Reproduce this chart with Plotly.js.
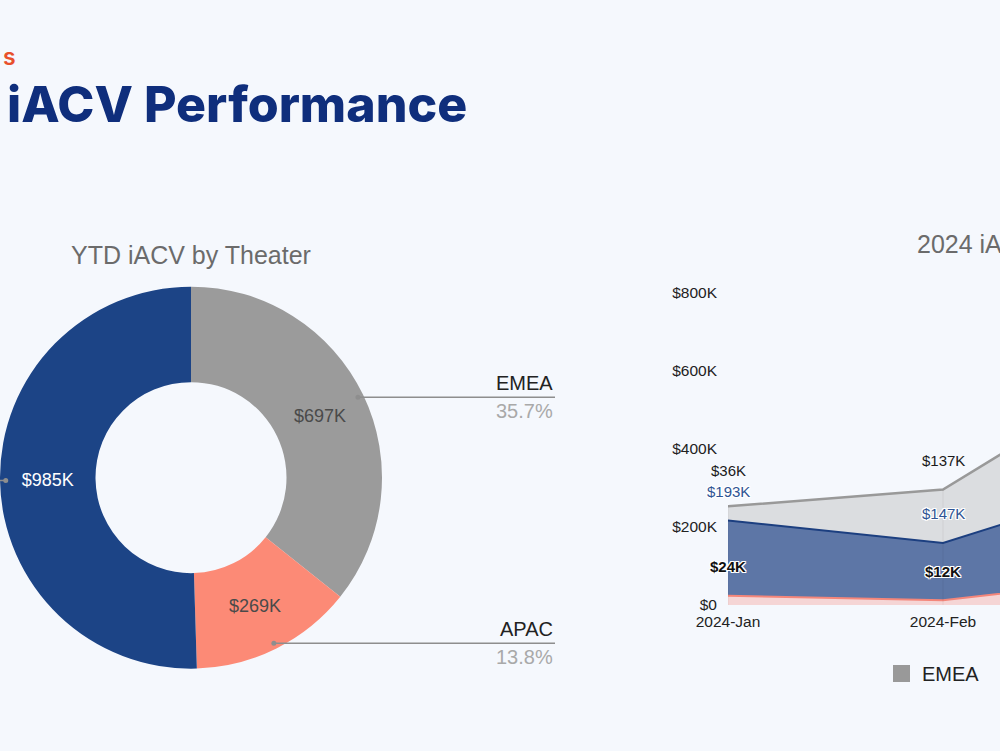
<!DOCTYPE html>
<html>
<head>
<meta charset="utf-8">
<script src="https://cdn.plot.ly/plotly-3.0.1.min.js"></script>
<style>
  html, body { margin: 0; padding: 0; background: #f5f8fd; overflow: hidden; }
  #chart { width: 1000px; height: 751px; }
</style>
</head>
<body>
<div id="chart"></div>
<script>
// YTD iACV by theater, in $K
const theaters = ["EMEA", "APAC", "AMER"];
const ytdValues = [697, 269, 985];

// 2024 monthly iACV by theater, in $K
const months = ["2024-Jan", "2024-Feb", "2024-Mar"];
const apacMonthly = [24, 12, 75];
const amerMonthly = [193, 147, 258];
const emeaMonthly = [36, 137, 300];

// Value axis ticks ($K)
const yTickVals = [0, 200, 400, 600, 800];
const yTickText = ["$0", "$200K", "$400K", "$600K", "$800K"];

// ---- styling / layout constants ----
const W = 1000, H = 751;
const FONT = "Liberation Sans, Arial, Helvetica, sans-serif";
const BG = "#f5f8fd";
const sliceColors = ["#9b9b9b", "#fc8a76", "#1c4486"];
const sliceTextColors = ["#4a4a4a", "#4a4a4a", "#ffffff"];
const pieDomain = { x: [0, 0.382], y: [0.108, 0.620] };
const areaX = [0.728, 1.0];
const areaY = [146 / H, 458 / H];
const outline = "1px 1px 0 #fff, -1px -1px 0 #fff, 1px -1px 0 #fff, -1px 1px 0 #fff, 0 1px 0 #fff, 0 -1px 0 #fff, 1px 0 0 #fff, -1px 0 0 #fff";

const shapes = [];
const annotations = [];

// ---- page heading ----
annotations.push({
  xref: "paper", yref: "paper", x: 1 / W, y: 1 - 57 / H, xanchor: "left", yanchor: "middle",
  text: "s", showarrow: false,
  font: { family: "Inter, sans-serif", size: 23, color: "#e8502c", weight: 600 }
});
annotations.push({
  xref: "paper", yref: "paper", x: 5 / W, y: 1 - 104 / H, xanchor: "left", yanchor: "middle",
  text: "iACV Performance", showarrow: false,
  font: { family: "Inter, sans-serif", size: 50, color: "#0f2e7c", weight: 800 }
});

// ---- donut title ----
annotations.push({
  xref: "paper", yref: "paper", x: 191 / W, y: 1 - 255 / H, xanchor: "center", yanchor: "middle",
  text: "YTD iACV by Theater", showarrow: false,
  font: { family: FONT, size: 25, color: "#6b6b6b" }
});

// ---- donut leader lines and outside labels ----
const total = ytdValues.reduce((a, b) => a + b, 0);
const pcx = (pieDomain.x[0] + pieDomain.x[1]) / 2 * W;
const pcy = H - (pieDomain.y[0] + pieDomain.y[1]) / 2 * H;
const R = Math.min((pieDomain.x[1] - pieDomain.x[0]) * W, (pieDomain.y[1] - pieDomain.y[0]) * H) / 2;
let cum = 0;
ytdValues.forEach((v, i) => {
  const th = (cum + v / 2) / total * 2 * Math.PI;
  cum += v;
  const sx = pcx + 0.97 * R * Math.sin(th);
  const sy = pcy - 0.97 * R * Math.cos(th);
  const right = Math.sin(th) > 0;
  const ex = right ? 555 : -40;
  shapes.push({
    type: "line", xref: "paper", yref: "paper",
    x0: sx / W, y0: 1 - sy / H, x1: ex / W, y1: 1 - sy / H,
    line: { color: "#8e8e8e", width: 1.5 }
  });
  shapes.push({
    type: "circle", xref: "paper", yref: "paper",
    x0: (sx - 2.5) / W, x1: (sx + 2.5) / W, y0: 1 - (sy + 2.5) / H, y1: 1 - (sy - 2.5) / H,
    fillcolor: "#8e8e8e", line: { width: 0 }
  });
  if (right) {
    annotations.push({
      xref: "paper", yref: "paper", x: 555 / W, y: 1 - sy / H, xanchor: "right", yanchor: "bottom",
      yshift: 1, text: theaters[i], showarrow: false,
      font: { family: FONT, size: 20, color: "#222222" }
    });
    annotations.push({
      xref: "paper", yref: "paper", x: 555 / W, y: 1 - sy / H, xanchor: "right", yanchor: "top",
      yshift: -1, text: (v / total * 100).toFixed(1) + "%", showarrow: false,
      font: { family: FONT, size: 20, color: "#a9a9a9" }
    });
  }
});

// ---- area chart title ----
annotations.push({
  xref: "paper", yref: "paper", x: 915 / W, y: 1 - 244 / H, xanchor: "left", yanchor: "middle",
  text: "2024 iACV by Month", showarrow: false,
  font: { family: FONT, size: 25, color: "#6b6b6b" }
});

// ---- stacked area series ----
const series = [
  { name: "APAC", y: apacMonthly, line: "#f4867a", fill: "rgba(244,134,122,0.30)", lw: 2,
    label: { family: FONT, size: 15, color: "#111111", weight: 700, shadow: outline } },
  { name: "AMER", y: amerMonthly, line: "#1c3f80", fill: "rgba(28,63,128,0.70)", lw: 2,
    label: { family: FONT, size: 15, color: "#2f5494", shadow: outline } },
  { name: "EMEA", y: emeaMonthly, line: "#999999", fill: "rgba(150,150,150,0.28)", lw: 2.5,
    label: { family: FONT, size: 15, color: "#1a1a1a" } }
];

const traces = [];
traces.push({
  type: "pie", values: ytdValues, labels: theaters, sort: false, direction: "clockwise",
  rotation: 0, hole: 0.5, domain: pieDomain,
  marker: { colors: sliceColors, line: { width: 0 } },
  texttemplate: "$%{value}K", textposition: "inside", insidetextorientation: "horizontal",
  textfont: { family: FONT, size: 18, color: sliceTextColors },
  showlegend: false, hoverinfo: "none"
});
series.forEach(s => {
  traces.push({
    type: "scatter", x: months, y: s.y, name: s.name, stackgroup: "one",
    mode: "lines", line: { color: s.line, width: s.lw, shape: "linear" },
    fillcolor: s.fill, xaxis: "x", yaxis: "y", hoverinfo: "none", showlegend: false
  });
});

// faint drop line under each month's stacked total
months.forEach((m, j) => {
  const top = series.reduce((acc, s) => acc + s.y[j], 0);
  shapes.push({
    type: "line", xref: "x", yref: "y", x0: j, x1: j, y0: 0, y1: top, layer: "above",
    line: { color: "rgba(0,0,0,0.06)", width: 1 }
  });
});

// value labels above each stacked point, nudged upward when they would collide
const pxPerK = (areaY[1] - areaY[0]) * H / 800;
const LABEL_GAP = 29, MIN_SEP = 21;
months.forEach((m, j) => {
  let stack = 0, prevPx = -Infinity;
  series.forEach(s => {
    stack += s.y[j];
    let px = stack * pxPerK + LABEL_GAP;
    if (px - prevPx < MIN_SEP) px = prevPx + MIN_SEP;
    prevPx = px;
    annotations.push({
      xref: "x", yref: "y", x: m, y: stack, yshift: px - stack * pxPerK,
      xanchor: "center", yanchor: "middle", showarrow: false,
      text: "$" + s.y[j] + "K", font: s.label
    });
  });
});

// ---- legend entry ----
shapes.push({
  type: "rect", xref: "paper", yref: "paper",
  x0: 893 / W, x1: 910 / W, y0: 1 - 682 / H, y1: 1 - 665 / H,
  fillcolor: series[2].line, line: { width: 0 }
});
annotations.push({
  xref: "paper", yref: "paper", x: 920 / W, y: 1 - 674 / H, xanchor: "left", yanchor: "middle",
  text: series[2].name, showarrow: false, font: { family: FONT, size: 20, color: "#222222" }
});

const layout = {
  width: W, height: H,
  margin: { l: 0, r: 0, t: 0, b: 0 },
  paper_bgcolor: BG, plot_bgcolor: "rgba(0,0,0,0)",
  showlegend: false,
  xaxis: {
    domain: areaX, type: "category", range: [0, 1.265],
    showgrid: false, zeroline: false, showline: false, ticks: "", ticklabelstandoff: 5,
    tickfont: { family: FONT, size: 15.5, color: "#222222" }
  },
  yaxis: {
    domain: areaY, range: [0, 800], tickvals: yTickVals, ticktext: yTickText,
    showgrid: false, zeroline: false, showline: false, ticks: "", ticklabelstandoff: 10,
    tickfont: { family: FONT, size: 15.5, color: "#222222" }
  },
  shapes: shapes,
  annotations: annotations
};

Plotly.newPlot("chart", traces, layout, { staticPlot: true, displayModeBar: false });
</script>
</body>
</html>
